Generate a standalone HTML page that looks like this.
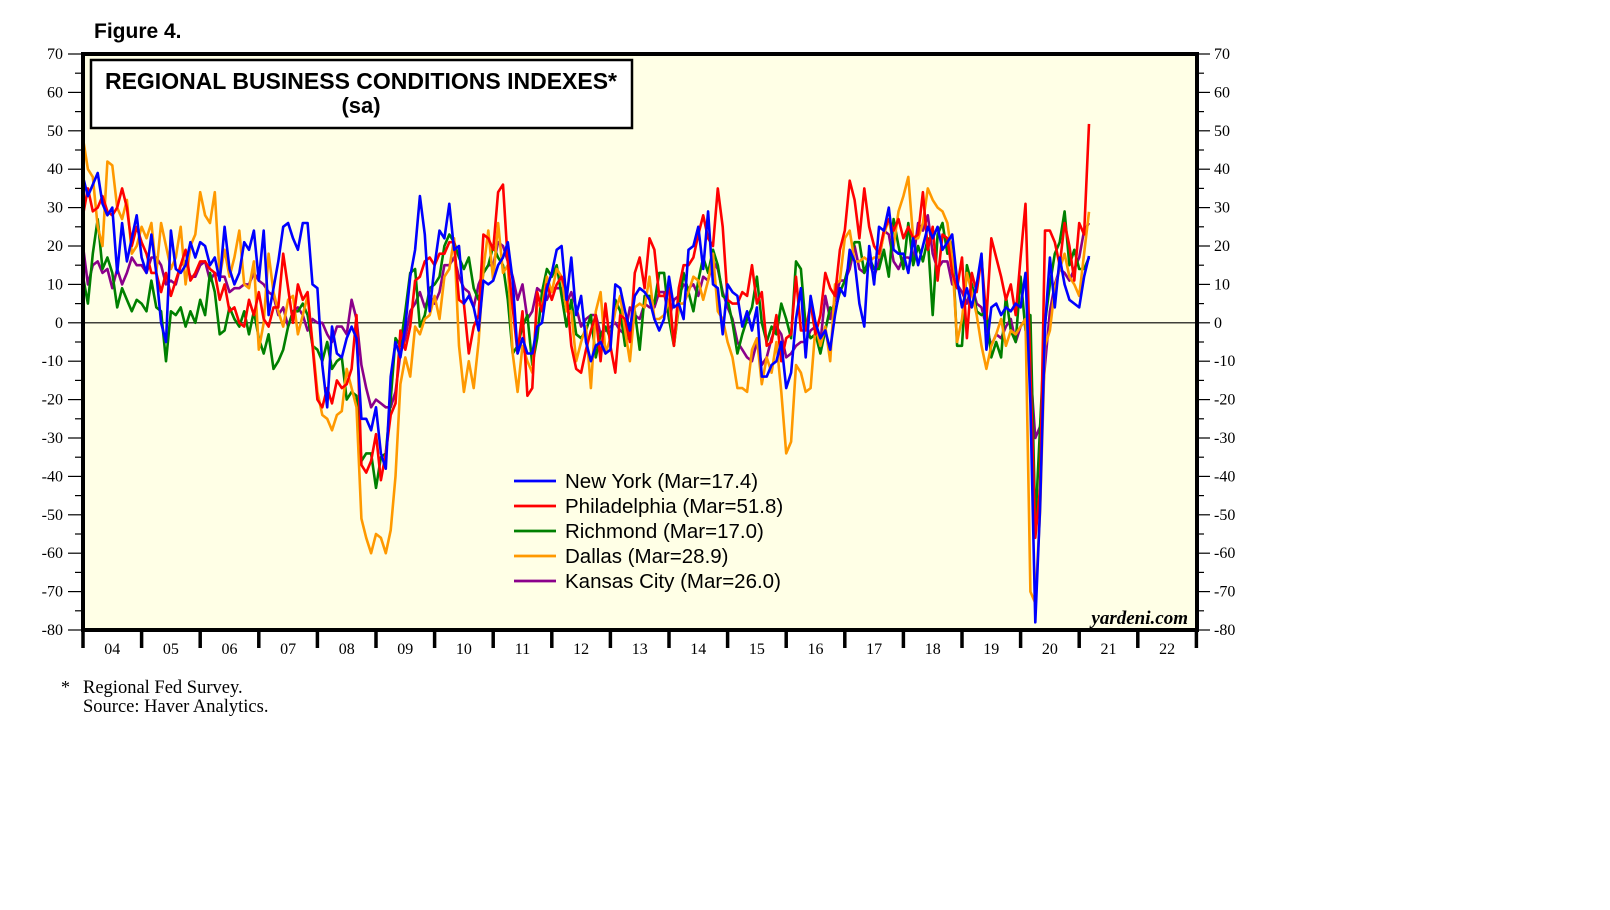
<!DOCTYPE html>
<html><head><meta charset="utf-8"><style>
html,body{margin:0;padding:0;background:#fff;}
svg{display:block;}
</style></head><body>
<svg id="chart" width="1610" height="910" xmlns="http://www.w3.org/2000/svg">
<rect x="0" y="0" width="1610" height="910" fill="#fff"/>
<text x="94" y="38" font-family="Liberation Sans, sans-serif" font-weight="bold" font-size="21">Figure 4.</text>
<rect x="83" y="54" width="1114" height="576" fill="#ffffe6"/>
<g id="axes"></g>
<g id="series" clip-path="url(#clip)"></g>
<defs><clipPath id="clip"><rect x="83" y="54" width="1114" height="576"/></clipPath></defs>
<rect x="83" y="54" width="1114" height="576" fill="none" stroke="#000" stroke-width="4"/>
<rect x="91" y="60" width="541" height="68" fill="#fff" stroke="#000" stroke-width="2.5"/>
<text x="361" y="89" text-anchor="middle" font-family="Liberation Sans, sans-serif" font-weight="bold" font-size="23">REGIONAL BUSINESS CONDITIONS INDEXES*</text>
<text x="361" y="113" text-anchor="middle" font-family="Liberation Sans, sans-serif" font-weight="bold" font-size="22">(sa)</text>
<text x="1188" y="624" text-anchor="end" font-family="Liberation Serif, serif" font-style="italic" font-weight="bold" font-size="19">yardeni.com</text>
<g id="legend"></g>
<text x="61" y="693" font-family="Liberation Serif, serif" font-size="18">*</text>
<text x="83" y="693" font-family="Liberation Serif, serif" font-size="18.5">Regional Fed Survey.</text>
<text x="83" y="712" font-family="Liberation Serif, serif" font-size="18.5">Source: Haver Analytics.</text>
</svg>
<script>
const yearLabels=["04","05","06","07","08","09","10","11","12","13","14","15","16","17","18","19","20","21","22"];
const yTicks=[70,60,50,40,30,20,10,0,-10,-20,-30,-40,-50,-60,-70,-80];
const seriesNames=["New York (Mar=17.4)","Philadelphia (Mar=51.8)","Richmond (Mar=17.0)","Dallas (Mar=28.9)","Kansas City (Mar=26.0)"];
const seriesColors=["#0000ff","#ff0000","#008000","#ff9900","#8b008b"];
const newYork=[38,33,36,39,31,28,30,13,26,16,22,28,
17,13,23,13,0,-5,24,14,13,15,21,17,
21,20,15,17,11,25,14,10,13,21,19,24,
11,24,2,9,16,25,26,22,19,26,26,10,
9,-11,-22,-1,-8,-9,-4,-1,-4,-25,-25,-28,
-22,-34,-38,-14,-5,-9,-1,12,19,33,23,3,
15,24,22,31,19,20,5,7,4,-2,11,10,
11,15,17,21,11,-8,-4,-8,-8,-1,0,9,
13,19,20,6,17,2,7,-5,-10,-6,-5,-8,
-7,10,9,3,-2,7,9,8,6,1,-2,1,
12,4,5,1,19,20,25,14,29,10,9,-3,
10,8,7,-1,3,-2,4,-14,-14,-11,-10,-5,
-17,-13,1,9,-9,7,0,-4,-2,-7,2,9,
7,19,16,5,-1,20,10,25,24,30,19,18,
18,13,22,15,20,25,22,25,19,21,23,11,
4,9,4,10,18,-7,4,5,2,4,3,5,
4,13,-21,-78,-48,-1,17,4,17,10,6,5,
4,12,17.4];
const philadelphia=[28,35,29,30,33,29,28,30,35,30,20,25,
21,18,13,13,8,13,7,11,15,19,11,13,
16,16,14,13,6,10,3,4,0,-1,6,2,
8,1,-1,4,4,18,9,0,10,6,8,-6,
-20,-22,-17,-21,-15,-17,-16,-12,2,-37,-39,-36,
-29,-41,-34,-24,-21,-2,-7,-1,11,12,16,17,
15,18,18,21,21,6,5,-8,-1,2,23,22,
19,34,36,16,4,-8,3,-19,-17,8,3,10,
6,10,12,8,-6,-12,-13,-7,-2,2,-10,5,
-6,-13,2,1,-5,13,17,9,22,19,7,7,
9,-6,9,15,15,17,23,28,22,20,35,25,
6,5,5,8,7,15,5,8,-6,-5,2,-10,
-4,-3,12,-2,-2,5,-3,2,13,9,7,19,
24,37,32,22,35,25,20,18,24,27,24,27,
22,25,22,23,34,19,25,11,23,22,13,9,
17,-4,13,8,17,1,22,17,12,6,10,2,
17,31,-13,-56,-43,24,24,21,15,26,20,11,
26,23,51.8];
const richmond=[12,5,18,27,14,17,13,4,9,6,3,6,
5,3,11,4,3,-10,3,2,4,-1,3,0,
6,2,13,8,-3,-2,4,1,-1,3,-3,3,
-4,-8,-3,-12,-10,-7,-1,3,3,5,2,-6,
-7,-10,-5,-12,-10,-9,-20,-18,-19,-36,-34,-34,
-43,-35,-34,-20,-4,-6,3,13,14,-1,2,9,
10,12,20,23,21,17,14,17,9,6,13,15,
20,17,15,6,-8,-6,-1,2,-11,-4,8,14,
12,15,7,-1,6,-3,-4,-2,2,-9,-3,-1,
-4,6,3,-6,-1,3,-7,7,7,5,13,13,
1,-6,4,13,8,3,11,17,13,19,15,7,
6,0,-8,-3,1,4,12,0,-5,-1,-3,5,
1,-4,16,14,-1,-4,-3,-8,-2,4,3,8,
11,16,21,21,13,17,14,14,19,12,27,20,
14,26,15,20,16,22,2,23,26,18,21,-6,
-6,15,10,3,2,3,-9,-5,-9,7,-2,-5,
12,-2,2,-53,-27,0,10,18,21,29,15,19,
14,14,17];
const dallas=[48,40,38,25,20,42,41,30,27,32,18,20,
25,22,26,13,26,20,14,17,25,10,20,23,
34,28,26,34,12,19,12,17,24,10,9,16,
-7,0,18,8,3,-1,6,7,-3,2,7,-5,
-18,-24,-25,-28,-24,-23,-12,-17,-22,-51,-56,-60,
-55,-56,-60,-54,-40,-16,-9,-14,-1,-3,1,2,
7,1,12,14,22,-6,-18,-10,-17,-5,14,24,
11,26,13,15,-8,-18,-6,-10,-13,5,4,12,
8,14,12,3,3,-10,-5,-1,-17,3,8,-8,
-4,3,7,-2,-10,4,5,4,12,1,1,2,
6,-6,5,5,8,12,11,6,11,18,3,1,
-5,-9,-17,-17,-18,-7,-4,-16,-9,-13,-5,-18,
-34,-31,-11,-13,-18,-17,-1,-6,-1,-10,10,11,
22,24,16,16,17,16,17,17,23,27,20,29,
33,38,22,22,26,35,32,30,29,26,17,-5,
1,13,8,2,-6,-12,-6,-3,1,-6,-2,-3,
-1,1,-70,-73,-49,-6,-2,9,14,18,12,10,
7,18,28.9];
const kansasCity=[20,10,15,16,13,14,9,14,10,13,17,15,
15,13,17,17,15,10,11,10,15,16,12,12,
15,16,11,13,12,12,8,9,9,10,10,13,
11,10,8,7,2,4,-1,3,4,2,-2,1,
0,0,-3,-5,-1,-1,-3,6,1,-11,-17,-22,
-20,-21,-22,-22,-18,-8,-4,3,5,8,4,7,
5,8,15,15,17,12,9,8,4,10,13,15,
15,21,20,16,12,6,10,1,3,9,8,6,
9,9,9,5,8,4,-1,1,2,2,-3,-2,
-1,0,-2,-3,4,2,1,5,4,4,8,8,
1,6,7,10,9,10,7,12,11,16,14,8,
4,1,-5,-7,-9,-10,-5,-11,-9,-4,-1,-3,
-9,-8,-6,-5,-5,-2,-1,-5,7,1,6,11,
11,14,20,14,13,16,12,16,24,23,16,14,
17,17,16,26,24,28,18,14,16,16,10,10,
8,5,10,5,4,-1,-6,-3,-4,-1,1,-5,
-1,1,-12,-30,-27,-11,3,10,14,13,11,14,
17,24,26];

const NS="http://www.w3.org/2000/svg";
const X0=83,YW=58.6,Y70=54,Ym80=630;
function xScale(i){return X0+i*YW/12;}
function yScale(v){return Ym80-(v+80)*(Ym80-Y70)/150;}
function mk(tag,attrs,parent){const e=document.createElementNS(NS,tag);for(const k in attrs)e.setAttribute(k,attrs[k]);parent.appendChild(e);return e;}
const axes=document.getElementById('axes');
const zl=mk('line',{x1:X0,x2:1197,y1:yScale(0),y2:yScale(0),stroke:'#000','stroke-width':1.2},axes);


for(let v=-80;v<=70;v+=5){
  const major=v%10===0;const y=yScale(v);
  const tl=mk('line',{x1:major?68:75,x2:X0,y1:y,y2:y,stroke:'#000','stroke-width':1.2},axes);
  
  
  const tr=mk('line',{x1:1197,x2:major?1210:1204,y1:y,y2:y,stroke:'#000','stroke-width':1.2},axes);
  
  
}
yTicks.forEach(v=>{
  const y=yScale(v)+5;
  const a=mk('text',{x:63,y:y,'text-anchor':'end','font-family':'Liberation Serif, serif','font-size':16},axes);a.textContent=v;
  
  
  const b=mk('text',{x:1214,y:y,'font-family':'Liberation Serif, serif','font-size':16},axes);b.textContent=v;
  
  
});
for(let k=0;k<=yearLabels.length;k++){
  const x=X0+k*YW;
  const t=mk('line',{x1:x,x2:x,y1:630,y2:648,stroke:'#000','stroke-width':3.5},axes);
  
  
}
yearLabels.forEach((l,k)=>{
  const t=mk('text',{x:X0+(k+0.5)*YW,y:654,'text-anchor':'middle','font-family':'Liberation Serif, serif','font-size':16},axes);t.textContent=l;
  
  
});
const allSeries=[newYork,philadelphia,richmond,dallas,kansasCity];
const sg=document.getElementById('series');
const order=[4,2,3,1,0];
const snames=['new-york-line','philadelphia-line','richmond-line','dallas-line','kansas-city-line'];
order.forEach(s=>{
  const d=allSeries[s].map((v,i)=>(i?'L':'M')+xScale(i).toFixed(1)+','+yScale(v).toFixed(1)).join('');
  const p=mk('path',{d:d,fill:'none',stroke:seriesColors[s],'stroke-width':2.6,'stroke-linejoin':'round'},sg);
  
  
});
const lg=document.getElementById('legend');
seriesNames.forEach((n,k)=>{
  const y=481+k*25;
  const l=mk('line',{x1:514,x2:556,y1:y,y2:y,stroke:seriesColors[k],'stroke-width':2.8},lg);
  
  
  const t=mk('text',{x:565,y:y+7,'font-family':'Liberation Sans, sans-serif','font-size':20.5},lg);t.textContent=n;
  
  
});
</script>
</body></html>
